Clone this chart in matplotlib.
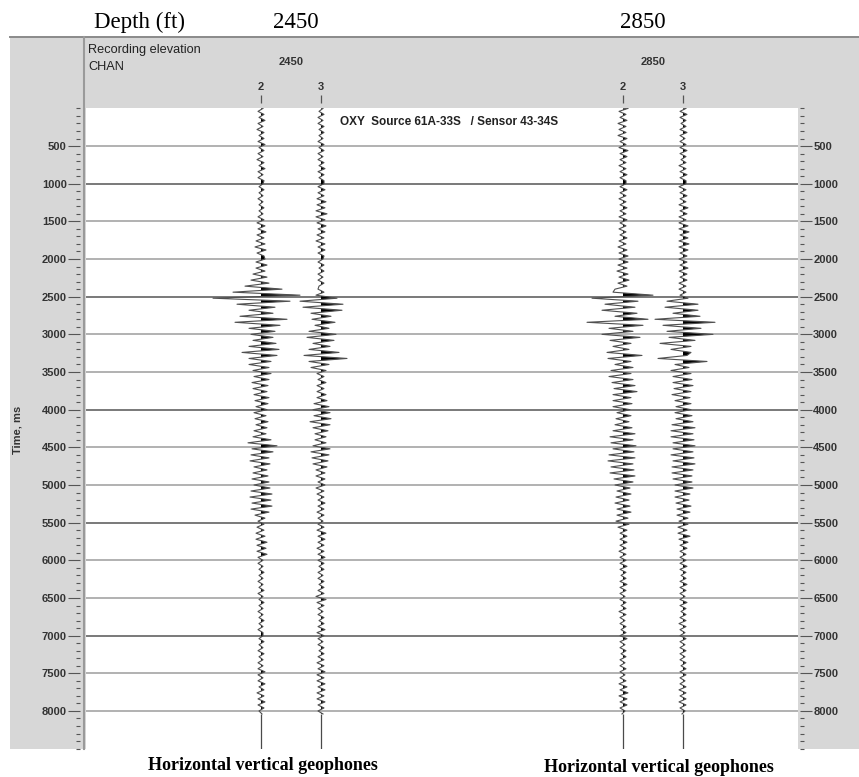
import numpy as np
import matplotlib
matplotlib.use("Agg")
import matplotlib.pyplot as plt
from matplotlib.patches import Rectangle
from matplotlib.lines import Line2D
from matplotlib.ticker import MultipleLocator
from matplotlib.transforms import blended_transform_factory

# ---- data (amplitudes in display px, 40 ms samples) ----
time_ms = np.arange(0, 8041, 40)

trace_depth = ["2450", "2450", "2850", "2850"]
trace_chan = ["2", "3", "2", "3"]
trace_x = [175, 235, 537, 597]

amp_2450_ch2 = [
    2, -3, 3, -2, 4, -3, 2, -4, 3, -2, 3, -3, 4, -2, 3, -3, 2, -4, 3, -2, 4, -3, 2, -3, 3,
    2, -2, 3, -2, 2, -3, 2, -2, 3, -2, 2, -3, 3, -4, 4, -3, 5, -4, 3, -5, 4, -6, 5, -4, 3,
    4, -5, 6, -5, 4, -8, 6, -10, 8, -16, 21, -28, 39, -48, 29, -24, 14, -12, 12, -21, 26, -26, 19, -12, 14,
    -10, 12, -8, 15, -12, 18, -19, 16, -12, 10, -12, 8, -8, 10, -7, 8, -9, 7, -8, 6, -7, 8, -6, 7, -5,
    6, -7, 5, -6, 7, -5, 6, -7, 5, -8, 10, -13, 16, -9, 12, -10, 8, -11, 9, -7, 6, -8, 7, -9, 8,
    -7, 9, -10, 11, -11, 10, -9, 11, -10, 8, -6, 4, -3, 3, -4, 3, -5, 4, -5, 6, -4, 5, -4, 6, -3,
    2, -3, 2, -2, 3, -2, 2, -3, 2, -2, 3, -3, 2, -2, 3, -2, 2, -3, 2, -2, 3, -2, 2, -3, 2,
    2, -2, 3, -2, 2, -3, 3, -2, 2, -3, 2, -3, 4, -3, 2, -3, 4, -2, 3, -4, 3, -3, 4, -3, 3,
    -2, 1]

amp_2450_ch3 = [
    2, -2, 3, -3, 2, -3, 3, -2, 3, -2, 2, -3, 3, -2, 3, -3, 2, -3, 3, -2, 4, -3, 3, -2, 3,
    3, -3, 4, -3, 3, -4, 5, -4, 4, -5, 6, -5, 4, -4, 5, -3, 4, -4, 3, -5, 4, -3, 4, -3, 3,
    2, -3, 3, -2, 3, -3, 2, -3, 3, -2, -3, 3, -5, 16, -21, 22, -18, 21, -10, 10, -9, 14, -6, 8, -12,
    15, -14, 13, -8, 9, -12, 18, -17, 26, -12, 8, -10, 5, -4, 3, -3, 5, -4, 3, -4, 5, -4, 6, -7, 8,
    -8, 9, -7, 10, -11, 9, -8, 7, -6, 5, -6, 5, -8, 9, -10, 8, -9, 7, -8, 6, -5, 4, -5, 4, -3,
    4, -5, 3, -4, 3, -3, 4, -3, 3, -4, 3, -3, 2, -3, 3, -4, 5, -3, 4, -3, 3, -4, 3, -3, 4,
    -3, 3, -2, 3, -3, 2, -3, 3, -2, 3, -3, 3, -5, 5, -4, 3, -3, 2, -3, 3, -2, 3, -3, 4, -4,
    3, -3, 2, -3, 3, -2, 3, -3, 3, -4, 3, -3, 4, -4, 3, -4, 4, -3, 4, -4, 3, -4, 4, -3, 3,
    -3, 2]

amp_2850_ch2 = [
    5, -4, 3, -3, 4, -5, 3, -4, 3, -5, 4, -3, 3, -4, 5, -3, 4, -3, 3, -4, 3, -3, 4, -3, 3,
    3, -3, 4, -3, 3, -4, 3, -3, 4, -3, 3, -4, 4, -3, 3, -4, 3, -3, 4, -4, 3, -5, 4, -4, 5,
    -4, 5, -5, 4, -6, 5, -4, 6, -5, 4, -8, -10, 30, -31, 15, -18, 12, -21, 14, -8, 25, -36, 20, -14, 10,
    -21, 17, -13, 8, -10, 6, -16, 19, -15, 8, -8, 10, -12, 8, -14, 10, -11, 12, -9, 14, -10, 8, -10, 9, -10,
    7, -6, 8, -7, 6, -8, 9, -10, 12, -13, 10, -12, 13, -10, 11, -14, 12, -15, 10, -12, 11, -13, 12, -9, 10,
    -8, 7, -6, 8, -7, 6, -8, 7, -6, 8, -6, 5, -7, 6, -5, 4, -3, 4, -3, 4, -3, 3, -4, 3, -3,
    3, -3, 4, -3, 3, -2, 3, -3, 4, -3, 3, -3, 2, -3, 3, -2, 3, -4, 3, -3, 2, -3, 3, -2, 3,
    -3, 4, -3, 2, -3, 3, -2, 3, -3, 2, -3, 3, -3, 2, -3, 3, -4, 4, -3, 5, -4, 4, -3, 4, -3,
    2, -1]

amp_2850_ch3 = [
    3, -3, 4, -3, 3, -2, 3, -3, 4, -3, 2, -3, 3, -3, 4, -3, 3, -2, 3, -4, 3, -3, 4, -3, 3,
    3, -4, 3, -3, 4, -3, 3, -4, 5, -3, 4, -4, 3, -4, 5, -4, 6, -3, 5, -4, 6, -4, 5, -3, 4,
    -4, 4, -3, 5, -4, 4, -3, 4, -4, 3, -4, 3, -3, 5, -16, 15, -18, 15, -10, 17, -28, 32, -20, 18, -16,
    30, -14, 12, -23, 8, -12, 8, 4, -25, 24, -8, 6, -12, 8, -10, 9, -10, 10, -9, 8, -11, 7, -8, 8, -7,
    8, -8, 9, -7, 10, -11, 12, -12, 10, -12, 11, -10, 12, -10, 10, -12, 11, -10, 12, -11, 10, -11, 9, -10, 9,
    -8, 10, -8, 7, -8, 6, -7, 8, -6, 7, -6, 5, -4, 5, -5, 4, -5, 7, -4, 5, -3, 4, -3, 3, -3,
    3, -3, 4, -3, 3, -2, 3, -3, 4, -3, 3, -3, 2, -3, 4, -3, 3, -2, 3, -3, 3, -4, 3, -3, 2,
    -3, 3, -3, 2, -3, 3, -3, 2, -3, 3, -2, 3, -3, 3, -3, 2, -3, 3, -4, 3, -3, 3, -4, 3, -3,
    2, -1]

traces = [amp_2450_ch2, amp_2450_ch3, amp_2850_ch2, amp_2850_ch3]
y_ticks = list(range(500, 8001, 500))

W, H = 859, 777
SANS = "Liberation Sans"
SERIF = "Liberation Serif"


def fx(px):
    return px / W


def fy(py):
    return 1 - py / H


fig = plt.figure(figsize=(W / 100, H / 100), dpi=100)

# gray frame (header + side panels), kept behind the axes
fig.patches.append(Rectangle((fx(10), fy(749)), fx(859) - fx(10), fy(37) - fy(749),
                             transform=fig.transFigure, facecolor="#d7d7d7", edgecolor="none", zorder=-5))
fig.add_artist(Line2D([fx(10), 1], [fy(37), fy(37)], color="#8a8a8a", lw=1.4, zorder=-4))
fig.add_artist(Line2D([fx(84), fx(84)], [fy(37), fy(749)], color="#9a9a9a", lw=1.5, zorder=-4))

ax = fig.add_axes([fx(86), fy(749), fx(798) - fx(86), fy(108) - fy(749)])
ax.set_zorder(2)
ax.set_facecolor("white")
ax.set_xlim(0, 712)
ax.set_ylim(8505, -5)

for t in y_ticks:
    dark = (t - 1000) % 1500 == 0
    ax.axhline(t, color="#555555" if dark else "#9c9c9c", lw=1.1, zorder=1)

for x0, amp in zip(trace_x, traces):
    a = np.array(amp, dtype=float)
    ax.fill_betweenx(time_ms, x0, x0 + a, where=a > 0, interpolate=True,
                     color="black", lw=0, zorder=3)
    ax.plot(x0 + a, time_ms, color="#505050", lw=0.8, zorder=4)
    ax.vlines(x0, time_ms[-1], ax.get_ylim()[0], color="#4a4a4a", lw=0.9, zorder=4)

ax.set_xticks([])
ax.set_yticks(y_ticks)
ax.yaxis.set_minor_locator(MultipleLocator(100))
for s in ax.spines.values():
    s.set_visible(False)
ax.spines["left"].set_position(("outward", 4.3))
ax.spines["right"].set_position(("outward", 1.4))
ax.tick_params(axis="y", which="both", left=True, right=True, labelleft=True, labelright=True,
               color="#555555", width=0.8)
ax.tick_params(axis="y", which="major", length=8.6, pad=1, labelsize=8, labelcolor="#333333")
ax.tick_params(axis="y", which="minor", length=3.2)
for lab in ax.get_yticklabels():
    lab.set_fontfamily(SANS)
    lab.set_fontweight("bold")

ax.text(0.357, 0.988, "OXY  Source 61A-33S   / Sensor 43-34S", transform=ax.transAxes,
        ha="left", va="top", fontsize=8.5, fontweight="bold", family=SANS, color="#222222")

# header: channels and depth labels
trans = blended_transform_factory(ax.transData, fig.transFigure)
for x0, ch in zip(trace_x, trace_chan):
    ax.text(x0, fy(87), ch, transform=trans, ha="center", va="center", fontsize=8,
            fontweight="bold", family=SANS, color="#333333", clip_on=False)
ax.vlines(trace_x, fy(103), fy(95), transform=trans, color="#555555", lw=0.9, clip_on=False)
for d in sorted(set(trace_depth)):
    xs = [x for x, td in zip(trace_x, trace_depth) if td == d]
    ax.text(np.mean(xs), fy(62), d, transform=trans, ha="center", va="center", fontsize=8,
            fontweight="bold", family=SANS, color="#333333", clip_on=False)

fig.text(fx(88), fy(50), "Recording elevation", ha="left", va="center", fontsize=9.2,
         family=SANS, color="#222222")
fig.text(fx(88), fy(67), "CHAN", ha="left", va="center", fontsize=9.2, family=SANS, color="#222222")
fig.text(fx(18), fy(430), "Time, ms", rotation=90, ha="center", va="center", fontsize=8,
         fontweight="bold", family=SANS, color="#333333")

fig.text(fx(140), fy(22), "Depth (ft)", ha="center", va="center", fontsize=16.5, family=SERIF)
fig.text(fx(296), fy(23), "2450", ha="center", va="center", fontsize=16.5, family=SERIF)
fig.text(fx(643), fy(23), "2850", ha="center", va="center", fontsize=16.5, family=SERIF)

fig.text(fx(263), fy(765), "Horizontal vertical geophones", ha="center", va="center",
         fontsize=13, fontweight="bold", family=SERIF)
fig.text(fx(659), fy(768), "Horizontal vertical geophones", ha="center", va="center",
         fontsize=13, fontweight="bold", family=SERIF)

fig.savefig("out.png", dpi=100)
